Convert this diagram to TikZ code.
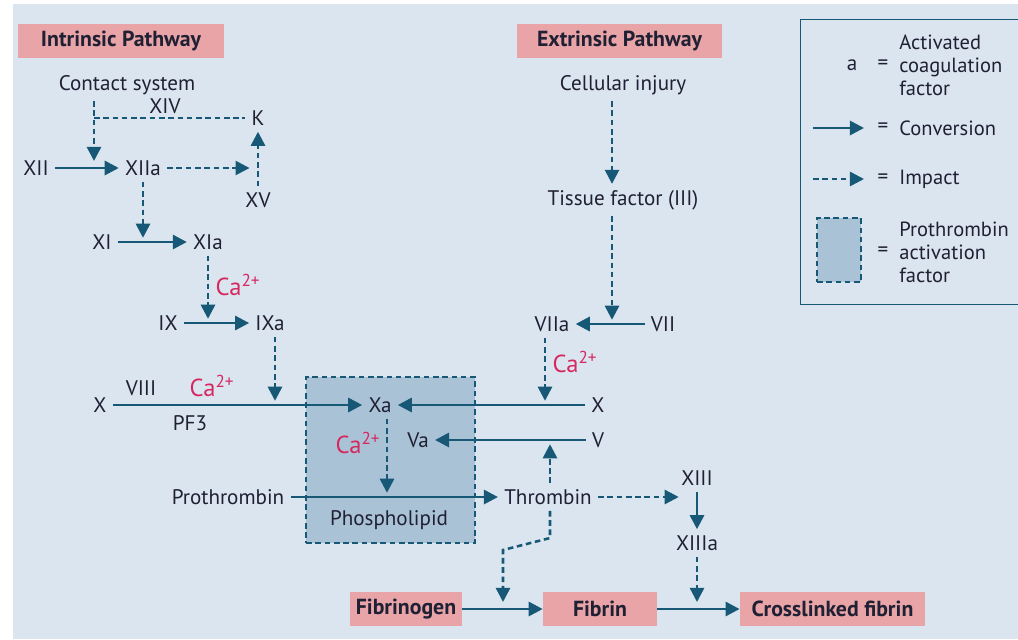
\documentclass[tikz,border=0pt]{standalone}
\usepackage{fontspec}
\setmainfont{PT Sans}
\usetikzlibrary{arrows.meta}
\definecolor{bgblue}{RGB}{219,229,239}
\definecolor{pinkbox}{RGB}{232,164,166}
\definecolor{arrowblue}{RGB}{22,88,118}
\definecolor{pafill}{RGB}{170,194,214}
\definecolor{capink}{RGB}{214,40,96}
\definecolor{ink}{RGB}{32,32,52}
\begin{document}
\begin{tikzpicture}[
	x=0.025cm,y=-0.025cm,
	font=\fontsize{15}{16.4}\selectfont,
	lbl/.style={text=ink,inner sep=1pt,outer sep=3.5pt},
	calbl/.style={text=capink,inner sep=1pt,font=\fontsize{17.5}{18}\selectfont},
	pathbox/.style={fill=pinkbox,text=ink,font=\fontsize{15.5}{16.4}\selectfont\bfseries,minimum height=0.85cm,inner sep=0pt},
	conv/.style={draw=arrowblue,line width=2pt,-{Triangle[length=10pt,width=10pt]}},
	impline/.style={draw=arrowblue,line width=1.8pt,dash pattern=on 4pt off 2.6pt},
	imp/.style={impline,-{Triangle[length=10pt,width=10pt]}}
	]
	\useasboundingbox (0,0) rectangle (1018,639);
	\fill[bgblue] (13,4) rectangle (1018,639);
	% pathway headers and end products
	\node[pathbox,minimum width=5.15cm] (intr) at (121,41) {Intrinsic Pathway};
	\node[pathbox,minimum width=5.13cm] (extr) at (619.5,41) {Extrinsic Pathway};
	\node[pathbox,minimum width=2.8cm] (fbg) at (406,609) {Fibrinogen};
	\node[pathbox,minimum width=2.85cm] (fbn) at (600,609) {Fibrin};
	\node[pathbox,minimum width=4.63cm] (xfbn) at (832.5,609) {Crosslinked fibrin};
	% prothrombin activation factor
	\node[draw=arrowblue,fill=pafill,impline,minimum width=4.22cm,minimum height=4.15cm] (pa) at (390.5,460) {};
	% factors
	\foreach \n/\x/\y/\t in {contact/127/85/Contact system,xiv/165/106/XIV,k/258/118/K,
		xii/36/168/XII,xiia/143/168/XIIa,xv/258/200/XV,xi/102/242/XI,xia/208/242/XIa,
		ix/168/323/IX,ixa/270/323/IXa,xl/100/405/X,viii/141/388/VIII,pf/190/423/PF3,
		xa/380/405/Xa,va/418/440/Va,phos/389/520/Phospholipid,proth/228/497/Prothrombin,
		thr/548/497/Thrombin,cell/623/85/Cellular injury,tf/623/200/Tissue factor (III),
		viia/552/324/VIIa,vii/663/324/VII,xr/598/405/X,v/598/440/V,
		xiii/697/478/XIII,xiiia/697/543/XIIIa}{
		\node[lbl] (\n) at (\x,\y) {\t};
	}
	\foreach \n/\x/\y in {ca1/238/285,ca2/212/386,ca3/358/443,ca4/575/362}{
		\node[calbl] (\n) at (\x,\y) {Ca\textsuperscript{2+}};
	}
	% points on the conversion arrows
	\coordinate (p1) at (94,168);
	\coordinate (p2) at (143,242);
	\coordinate (p3) at (208,323);
	\coordinate (p4) at (275,405);
	\coordinate (p5) at (387,497);
	\coordinate (p6) at (612,324);
	\coordinate (p7) at (545,405);
	\coordinate (p8) at (550,440);
	\coordinate (p9) at (503,609);
	\coordinate (p10) at (697,609);
	% conversions
	\draw[conv] (xii) -- (xiia);
	\draw[conv] (xi) -- (xia);
	\draw[conv] (ix) -- (ixa);
	\draw[conv] (xl) -- (xa);
	\draw[conv] (proth) -- (thr);
	\draw[conv] (vii) -- (viia);
	\draw[conv] (xr) -- (xa);
	\draw[conv] (v) -- (va);
	\draw[conv] (xiii) -- (xiiia);
	\draw[conv] (fbg) -- (fbn);
	\draw[conv] (fbn) -- (xfbn);
	% impacts
	\draw[imp] (contact.south -| p1) -- ([yshift=5pt]p1);
	\draw[impline] (p1 |- k) -- (k.west);
	\draw[imp] (xiia) -- ([xshift=-6pt]xiia -| xv);
	\draw[imp] (xv) -- (k);
	\draw[imp] (xiia) -- ([yshift=3pt]p2);
	\draw[imp] (xia) -- ([yshift=3pt]p3);
	\draw[imp] (ixa.south -| p4) -- ([yshift=3pt]p4);
	\draw[imp] (xa.south -| p5) -- ([yshift=3pt]p5);
	\draw[imp] (cell.south -| p6) -- (tf.north -| p6);
	\draw[imp] (tf.south -| p6) -- ([yshift=3pt]p6);
	\draw[imp] (viia.south -| p7) -- ([yshift=3pt]p7);
	\draw[imp] (thr.north -| p8) -- ([yshift=-3pt]p8);
	\draw[imp] (thr.south -| p8) -- (550,538) -- (503,550) -- ([yshift=5pt]p9);
	\draw[imp] (thr) -- ([xshift=-13pt]thr -| xiii);
	\draw[imp] (xiiia) -- ([yshift=5pt]p10);
	% legend
	\node[draw=arrowblue,line width=0.9pt,minimum width=5.45cm,minimum height=7.12cm,anchor=north west] (leg) at (800,19) {};
	\node[lbl] (la) at (852,65) {a};
	\foreach \n/\y in {e1/65,e2/128,e3/179,e4/252}{
		\node[lbl] (\n) at (883,\y) {=};
	}
	\node[lbl,anchor=west,align=left,font=\fontsize{14.6}{16.4}\selectfont] (lt1) at (893,65) {Activated\\coagulation\\factor};
	\node[lbl,anchor=west,font=\fontsize{14.6}{16.4}\selectfont] (lt2) at (893,128) {Conversion};
	\node[lbl,anchor=west,font=\fontsize{14.6}{16.4}\selectfont] (lt3) at (893,179) {Impact};
	\node[lbl,anchor=west,align=left,font=\fontsize{14.6}{16.4}\selectfont] (lt4) at (893,252) {Prothrombin\\activation\\factor};
	\coordinate (lc) at (813,128);
	\coordinate (li) at (813,179);
	\draw[conv] (lc) -- (e2.west -| 864,0);
	\draw[imp] (li) -- (e3.west -| 864,0);
	\node[draw=arrowblue,fill=pafill,impline,minimum width=1.1cm,minimum height=1.6cm] (lpa) at (839,250) {};
\end{tikzpicture}
\end{document}
